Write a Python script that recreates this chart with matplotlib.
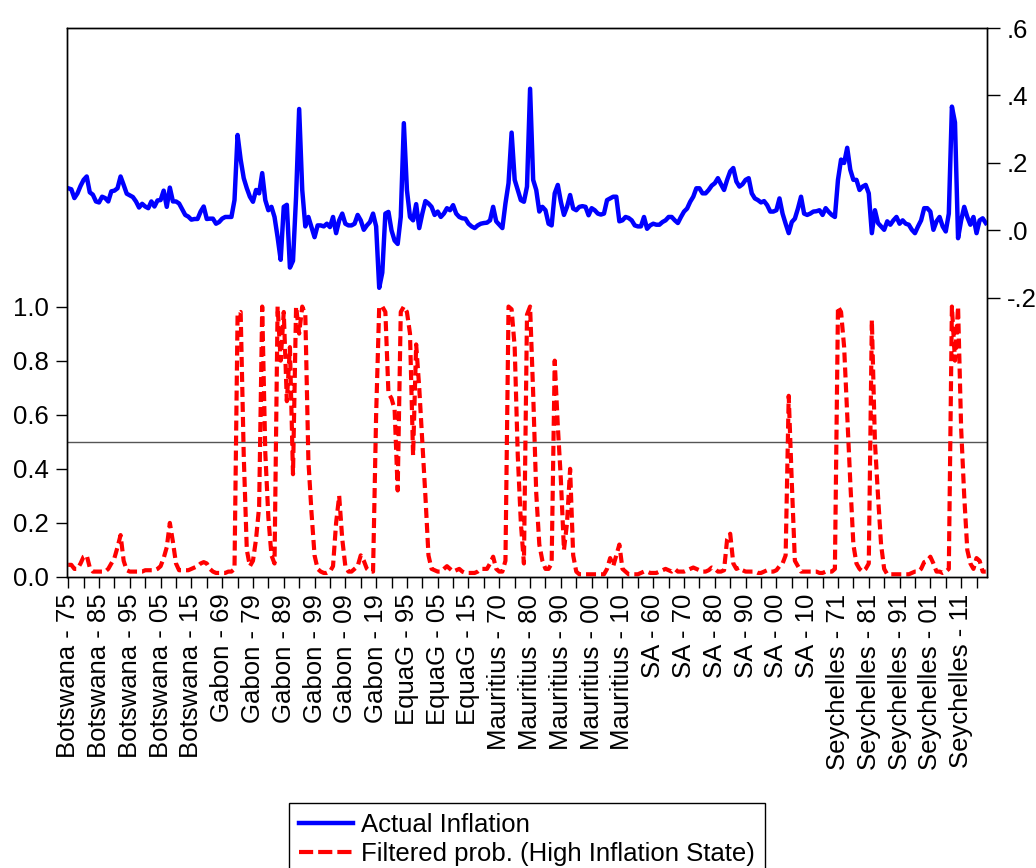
import numpy as np
import matplotlib
matplotlib.use('Agg')
import matplotlib.pyplot as plt
from matplotlib.lines import Line2D

plt.rcParams['font.family'] = ['Liberation Sans', 'DejaVu Sans']
FS = 18.5

# x tick labels, one every 10 observations
tick_labels = ['Botswana - 75', 'Botswana - 85', 'Botswana - 95', 'Botswana - 05', 'Botswana - 15',
               'Gabon - 69', 'Gabon - 79', 'Gabon - 89', 'Gabon - 99', 'Gabon - 09', 'Gabon - 19',
               'EquaG - 95', 'EquaG - 05', 'EquaG - 15',
               'Mauritius - 70', 'Mauritius - 80', 'Mauritius - 90', 'Mauritius - 00', 'Mauritius - 10',
               'SA - 60', 'SA - 70', 'SA - 80', 'SA - 90', 'SA - 00', 'SA - 10',
               'Seychelles - 71', 'Seychelles - 81', 'Seychelles - 91', 'Seychelles - 01', 'Seychelles - 11']

# Actual inflation (right axis)
botswana_infl = [0.125, 0.122, 0.096, 0.110, 0.132, 0.150, 0.160, 0.113, 0.106, 0.086,
                 0.083, 0.100, 0.096, 0.086, 0.116, 0.118, 0.125, 0.160, 0.135, 0.109,
                 0.104, 0.099, 0.086, 0.068, 0.079, 0.071, 0.066, 0.086, 0.071, 0.089,
                 0.090, 0.118, 0.070, 0.127, 0.086, 0.086, 0.080, 0.063, 0.046, 0.041,
                 0.032, 0.034, 0.034, 0.056, 0.071]
gabon_infl = [0.034, 0.035, 0.035, 0.020, 0.025, 0.035, 0.040, 0.040, 0.040, 0.090,
              0.283, 0.210, 0.155, 0.125, 0.100, 0.085, 0.120, 0.110, 0.170, 0.090,
              0.060, 0.070, 0.040, -0.020, -0.087, 0.070, 0.076, -0.110, -0.090, 0.100,
              0.360, 0.120, 0.012, 0.040, 0.010, -0.020, 0.015, 0.015, 0.012, 0.020,
              0.010, 0.040, -0.008, 0.030, 0.050, 0.020, 0.015, 0.015, 0.020, 0.046,
              0.030, 0.002, 0.015, 0.025, 0.050, 0.012]
equag_infl = [-0.170, -0.125, 0.050, 0.055, 0.000, -0.030, -0.040, 0.040, 0.318, 0.120,
              0.040, 0.030, 0.078, 0.007, 0.050, 0.087, 0.080, 0.070, 0.046, 0.056,
              0.040, 0.050, 0.066, 0.060, 0.075, 0.050, 0.040, 0.036, 0.035, 0.020,
              0.012, 0.007, 0.015, 0.020]
mauritius_infl = [0.022, 0.023, 0.030, 0.070, 0.027, 0.017, 0.007, 0.080, 0.140, 0.290,
                  0.150, 0.120, 0.090, 0.085, 0.130, 0.420, 0.150, 0.120, 0.056, 0.070,
                  0.060, 0.020, 0.015, 0.110, 0.135, 0.085, 0.046, 0.070, 0.105, 0.065,
                  0.060, 0.070, 0.072, 0.070, 0.045, 0.066, 0.060, 0.050, 0.047, 0.050,
                  0.090, 0.095, 0.100, 0.100, 0.027, 0.030, 0.040, 0.037, 0.030, 0.015,
                  0.012, 0.012, 0.040, 0.005, 0.015]
sa_infl = [0.020, 0.017, 0.017, 0.025, 0.030, 0.040, 0.040, 0.030, 0.022, 0.040,
           0.056, 0.065, 0.085, 0.100, 0.125, 0.125, 0.110, 0.110, 0.120, 0.133,
           0.140, 0.155, 0.137, 0.120, 0.150, 0.175, 0.185, 0.145, 0.130, 0.137,
           0.150, 0.155, 0.110, 0.095, 0.090, 0.083, 0.087, 0.075, 0.056, 0.056,
           0.060, 0.095, 0.050, 0.020, -0.008, 0.025, 0.035, 0.065, 0.100, 0.050,
           0.046, 0.050, 0.056, 0.057, 0.060, 0.046, 0.066, 0.055, 0.046, 0.040]
seychelles_infl = [0.150, 0.210, 0.200, 0.245, 0.180, 0.150, 0.150, 0.120, 0.130, 0.135,
                   0.110, -0.008, 0.060, 0.022, 0.012, 0.002, 0.027, 0.017, 0.030, 0.040,
                   0.020, 0.030, 0.020, 0.017, 0.002, -0.008, 0.012, 0.030, 0.066, 0.066,
                   0.056, 0.002, 0.027, 0.040, 0.012, -0.003, 0.050, 0.367, 0.320, -0.023,
                   0.030, 0.070, 0.040, 0.017, 0.040, -0.008, 0.030, 0.036, 0.022]

# Filtered probability of the high inflation state (left axis)
botswana_prob = [0.045, 0.045, 0.030, 0.030, 0.050, 0.075, 0.080, 0.035, 0.020, 0.020,
                 0.020, 0.020, 0.020, 0.030, 0.050, 0.070, 0.110, 0.155, 0.060, 0.025,
                 0.020, 0.020, 0.020, 0.020, 0.020, 0.025, 0.025, 0.025, 0.025, 0.030,
                 0.040, 0.070, 0.110, 0.200, 0.130, 0.050, 0.025, 0.025, 0.025, 0.025,
                 0.030, 0.035, 0.040, 0.050, 0.055]
gabon_prob = [0.050, 0.030, 0.020, 0.015, 0.015, 0.015, 0.015, 0.020, 0.020, 0.030,
              0.970, 0.980, 0.450, 0.100, 0.040, 0.060, 0.140, 0.260, 1.000, 0.460,
              0.220, 0.080, 0.050, 1.000, 0.800, 0.980, 0.650, 0.850, 0.380, 1.000,
              0.900, 1.000, 0.970, 0.430, 0.240, 0.080, 0.030, 0.020, 0.015, 0.015,
              0.020, 0.040, 0.200, 0.300, 0.140, 0.040, 0.020, 0.020, 0.030, 0.040,
              0.080, 0.060, 0.030, 0.020, 0.020, 0.600]
equag_prob = [1.000, 1.000, 0.980, 0.680, 0.660, 0.620, 0.320, 0.980, 1.000, 0.980,
              0.900, 0.450, 0.860, 0.700, 0.500, 0.300, 0.080, 0.030, 0.025, 0.020,
              0.020, 0.030, 0.040, 0.030, 0.020, 0.025, 0.030, 0.020, 0.015, 0.015,
              0.015, 0.015, 0.020, 0.030]
mauritius_prob = [0.030, 0.030, 0.050, 0.075, 0.030, 0.020, 0.020, 0.060, 1.000, 0.990,
                  0.850, 0.450, 0.200, 0.050, 0.970, 1.000, 0.680, 0.310, 0.120, 0.060,
                  0.030, 0.030, 0.050, 0.800, 0.560, 0.360, 0.100, 0.200, 0.400, 0.080,
                  0.020, 0.010, 0.010, 0.010, 0.010, 0.010, 0.010, 0.010, 0.010, 0.010,
                  0.030, 0.070, 0.040, 0.080, 0.120, 0.030, 0.020, 0.010, 0.010, 0.010,
                  0.010, 0.015, 0.020, 0.020, 0.015]
sa_prob = [0.015, 0.015, 0.020, 0.025, 0.030, 0.025, 0.020, 0.030, 0.020, 0.020,
           0.020, 0.025, 0.030, 0.035, 0.030, 0.025, 0.020, 0.020, 0.025, 0.035,
           0.030, 0.020, 0.020, 0.025, 0.140, 0.160, 0.050, 0.030, 0.035, 0.025,
           0.020, 0.020, 0.020, 0.020, 0.015, 0.015, 0.020, 0.025, 0.020, 0.020,
           0.025, 0.040, 0.050, 0.080, 0.670, 0.350, 0.060, 0.040, 0.020, 0.020,
           0.020, 0.020, 0.020, 0.020, 0.015, 0.015, 0.020, 0.020, 0.020, 0.030]
seychelles_prob = [1.000, 0.980, 0.850, 0.600, 0.350, 0.120, 0.050, 0.030, 0.020, 0.030,
                   0.050, 0.950, 0.500, 0.300, 0.120, 0.030, 0.010, 0.010, 0.010, 0.010,
                   0.010, 0.010, 0.010, 0.010, 0.015, 0.020, 0.020, 0.030, 0.055, 0.060,
                   0.075, 0.050, 0.020, 0.020, 0.015, 0.020, 0.030, 1.000, 0.800, 1.000,
                   0.550, 0.300, 0.100, 0.050, 0.030, 0.070, 0.060, 0.020, 0.020]

inflation = np.concatenate([botswana_infl, gabon_infl, equag_infl,
                            mauritius_infl, sa_infl, seychelles_infl])
prob = np.concatenate([botswana_prob, gabon_prob, equag_prob,
                       mauritius_prob, sa_prob, seychelles_prob])
obs = np.arange(len(inflation))

fig = plt.figure(figsize=(10.36, 8.68), dpi=100)
ax = fig.add_axes([67 / 1036, 1 - 577 / 868, 920 / 1036, 549 / 868])
ax2 = ax.twinx()

ax.axhline(0.5, color='#555555', lw=1.0, zorder=1)
ax.plot(obs, prob, color='#ff0000', lw=3.0, dashes=(2.4, 1.2), zorder=2)
ax2.plot(obs, inflation, color='#0000ff', lw=3.2)

ax.set_xlim(-0.4, len(obs) - 0.6)
ax.set_ylim(0, 2.03)
ax2.set_ylim(-1.027, 0.6)

# x axis: labels every 10 obs, ticks every 5
ax.set_xticks(np.arange(0, len(obs), 10))
ax.set_xticklabels(tick_labels, rotation=90)
ax.set_xticks(np.arange(5, len(obs), 10), minor=True)
ax.tick_params(axis='x', which='both', direction='out', length=8, width=1,
               pad=4, labelsize=FS)

ax.set_yticks([0.0, 0.2, 0.4, 0.6, 0.8, 1.0])
ax.set_yticklabels(['0.0', '0.2', '0.4', '0.6', '0.8', '1.0'])
ax.tick_params(axis='y', direction='out', length=8, width=1, pad=5, labelsize=FS)

ax2.set_yticks([-0.2, 0.0, 0.2, 0.4, 0.6])
ax2.set_yticklabels(['-.2', '.0', '.2', '.4', '.6'])
ax2.tick_params(axis='y', direction='out', length=9, width=1, pad=5, labelsize=FS)

for a in (ax, ax2):
    for s in a.spines.values():
        s.set_linewidth(1.0)
        s.set_color('black')

# legend sits at the bottom, partly cut by the image edge like the original
leg_handles = [Line2D([], [], color='#0000ff', lw=3.2),
               Line2D([], [], color='#ff0000', lw=3.0, dashes=(3.4, 1.2))]
leg = fig.legend(leg_handles, ['Actual Inflation', 'Filtered prob. (High Inflation State)'],
                 loc='upper left', bbox_to_anchor=(289 / 1036, 1 - 803 / 868),
                 fontsize=FS, frameon=True, fancybox=False, framealpha=1,
                 edgecolor='black', borderpad=0.4, labelspacing=0.2,
                 handlelength=2.1, handletextpad=0.3, borderaxespad=0)
leg.get_frame().set_linewidth(1.0)

fig.savefig('out.png', dpi=100)
